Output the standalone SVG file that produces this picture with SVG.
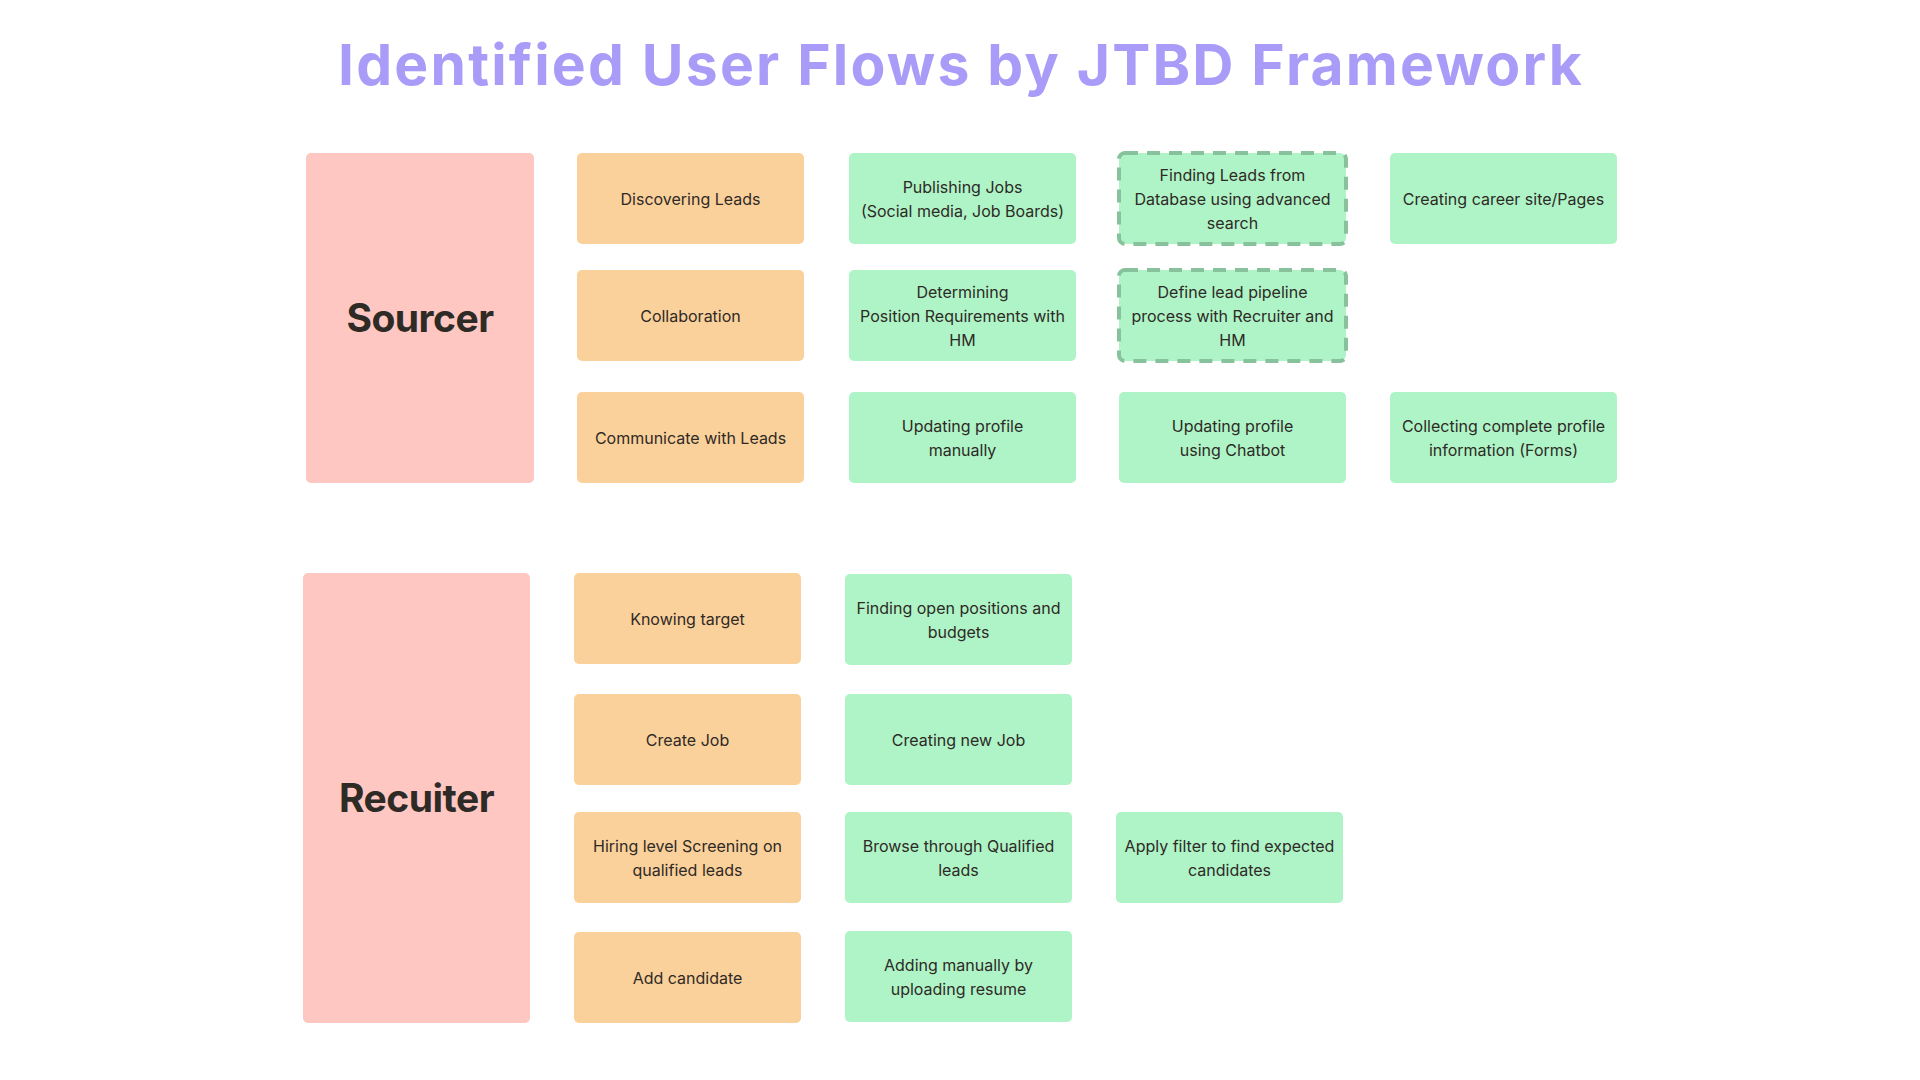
<svg xmlns="http://www.w3.org/2000/svg" width="1920" height="1080" viewBox="0 0 1920 1080">
<style>
.t{font-family:Inter,"Noto Sans","Liberation Sans",sans-serif;font-size:16px;font-weight:400;fill:#2e2a26;text-anchor:middle}
.role{font-family:Inter,"Noto Sans","Liberation Sans",sans-serif;font-size:39px;font-weight:700;fill:#2e2a26;text-anchor:middle;letter-spacing:-0.5px}
.title{font-family:Inter,"Noto Sans","Liberation Sans",sans-serif;font-size:57px;font-weight:700;fill:#a99cf8;text-anchor:middle;letter-spacing:2.2px}
.p{fill:#fec7c2}
.o{fill:#fbd19b}
.g{fill:#aff4c7}
.d{fill:#aff4c7;stroke:#88c29d;stroke-width:4;stroke-dasharray:13 9}
</style>
<rect width="1920" height="1080" fill="#ffffff"/>
<text class="title" x="961" y="85">Identified User Flows by JTBD Framework</text>

<g id="sourcer"><rect class="p" x="306" y="153" width="228" height="330" rx="5"/><text class="role" x="420" y="332">Sourcer</text></g>
<g id="discovering-leads"><rect class="o" x="577" y="153" width="227" height="91" rx="5"/><text class="t" x="690.5" y="204.5">Discovering Leads</text></g>
<g id="publishing-jobs"><rect class="g" x="849" y="153" width="227" height="91" rx="5"/><text class="t" x="962.5" y="192.5">Publishing Jobs</text><text class="t" x="962.5" y="216.5">(Social media, Job Boards)</text></g>
<g id="finding-leads"><rect class="d" x="1119" y="153" width="227" height="91" rx="6"/><text class="t" x="1232.5" y="180.5">Finding Leads from</text><text class="t" x="1232.5" y="204.5">Database using advanced</text><text class="t" x="1232.5" y="228.5">search</text></g>
<g id="career-site"><rect class="g" x="1390" y="153" width="227" height="91" rx="5"/><text class="t" x="1503.5" y="204.5">Creating career site/Pages</text></g>

<g id="collaboration"><rect class="o" x="577" y="270" width="227" height="91" rx="5"/><text class="t" x="690.5" y="321.5">Collaboration</text></g>
<g id="determining"><rect class="g" x="849" y="270" width="227" height="91" rx="5"/><text class="t" x="962.5" y="297.5">Determining</text><text class="t" x="962.5" y="321.5">Position Requirements with</text><text class="t" x="962.5" y="345.5">HM</text></g>
<g id="lead-pipeline"><rect class="d" x="1119" y="270" width="227" height="91" rx="6"/><text class="t" x="1232.5" y="297.5">Define lead pipeline</text><text class="t" x="1232.5" y="321.5">process with Recruiter and</text><text class="t" x="1232.5" y="345.5">HM</text></g>

<g id="communicate"><rect class="o" x="577" y="392" width="227" height="91" rx="5"/><text class="t" x="690.5" y="443.5">Communicate with Leads</text></g>
<g id="update-manual"><rect class="g" x="849" y="392" width="227" height="91" rx="5"/><text class="t" x="962.5" y="431.5">Updating profile</text><text class="t" x="962.5" y="455.5">manually</text></g>
<g id="update-chatbot"><rect class="g" x="1119" y="392" width="227" height="91" rx="5"/><text class="t" x="1232.5" y="431.5">Updating profile</text><text class="t" x="1232.5" y="455.5">using Chatbot</text></g>
<g id="collecting"><rect class="g" x="1390" y="392" width="227" height="91" rx="5"/><text class="t" x="1503.5" y="431.5">Collecting complete profile</text><text class="t" x="1503.5" y="455.5">information (Forms)</text></g>

<g id="recuiter"><rect class="p" x="303" y="573" width="227" height="450" rx="5"/><text class="role" x="416.5" y="812">Recuiter</text></g>
<g id="knowing-target"><rect class="o" x="574" y="573" width="227" height="91" rx="5"/><text class="t" x="687.5" y="624.5">Knowing target</text></g>
<g id="open-positions"><rect class="g" x="845" y="574" width="227" height="91" rx="5"/><text class="t" x="958.5" y="613.5">Finding open positions and</text><text class="t" x="958.5" y="637.5">budgets</text></g>

<g id="create-job"><rect class="o" x="574" y="694" width="227" height="91" rx="5"/><text class="t" x="687.5" y="745.5">Create Job</text></g>
<g id="creating-new-job"><rect class="g" x="845" y="694" width="227" height="91" rx="5"/><text class="t" x="958.5" y="745.5">Creating new Job</text></g>

<g id="hiring-screening"><rect class="o" x="574" y="812" width="227" height="91" rx="5"/><text class="t" x="687.5" y="851.5">Hiring level Screening on</text><text class="t" x="687.5" y="875.5">qualified leads</text></g>
<g id="browse-qualified"><rect class="g" x="845" y="812" width="227" height="91" rx="5"/><text class="t" x="958.5" y="851.5">Browse through Qualified</text><text class="t" x="958.5" y="875.5">leads</text></g>
<g id="apply-filter"><rect class="g" x="1116" y="812" width="227" height="91" rx="5"/><text class="t" x="1229.5" y="851.5">Apply filter to find expected</text><text class="t" x="1229.5" y="875.5">candidates</text></g>

<g id="add-candidate"><rect class="o" x="574" y="932" width="227" height="91" rx="5"/><text class="t" x="687.5" y="983.5">Add candidate</text></g>
<g id="adding-manually"><rect class="g" x="845" y="931" width="227" height="91" rx="5"/><text class="t" x="958.5" y="970.5">Adding manually by</text><text class="t" x="958.5" y="994.5">uploading resume</text></g>

<g id="connectors"></g>
</svg>
